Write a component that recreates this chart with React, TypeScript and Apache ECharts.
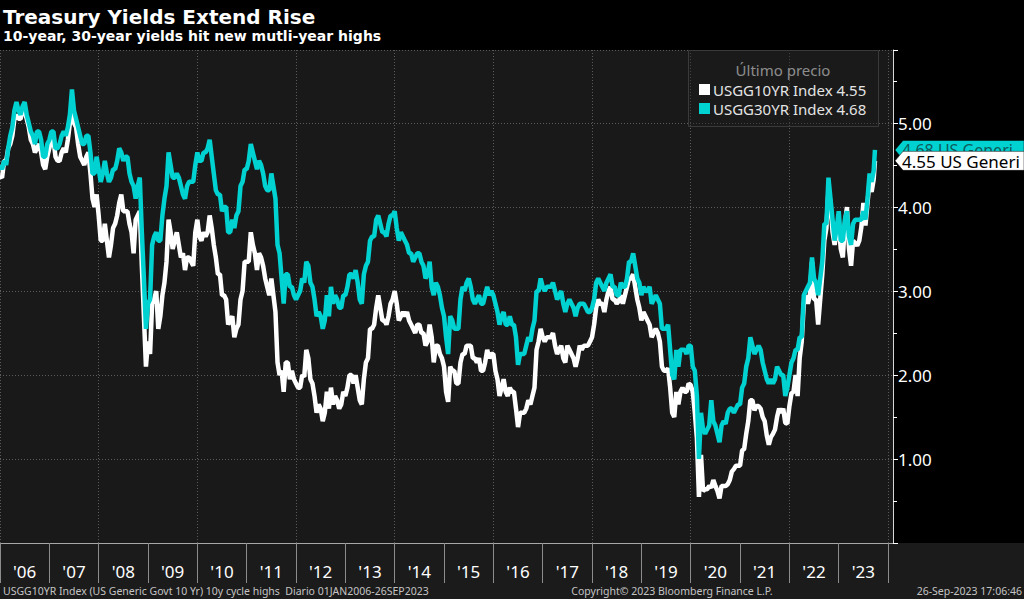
import React, { useEffect, useRef } from "react";
import * as echarts from "echarts";

const TITLE = "Treasury Yields Extend Rise";
const SUBTITLE = "10-year, 30-year yields hit new mutli-year highs";
const LEGEND_HEADER = "Último precio";
const NAME_10Y = "USGG10YR Index 4.55";
const NAME_30Y = "USGG30YR Index 4.68";
const TAG_10Y = "4.55 US Generi";
const TAG_30Y = "4.68 US Generi";
const FOOTER_LEFT = "USGG10YR Index (US Generic Govt 10 Yr) 10y cycle highs  Diario 01JAN2006-26SEP2023";
const FOOTER_MID = "Copyright\u00a9 2023 Bloomberg Finance L.P.";
const FOOTER_RIGHT = "26-Sep-2023 17:06:46";

const YEAR_LABELS = ["'06", "'07", "'08", "'09", "'10", "'11", "'12", "'13", "'14", "'15", "'16", "'17", "'18", "'19", "'20", "'21", "'22", "'23"];
const START_YEAR = 2006;
const SAMPLES_PER_YEAR = 24; // readings on the 1st and 16th of each month
const LAST_DATE_DECIMAL = 2023.734; // 26-Sep-2023
const LAST_10Y = 4.55;
const LAST_30Y = 4.68;

// US Generic Govt 10 Yr, semi-monthly readings Jan-2006 .. Sep-2023
const y10: number[] = [
  // 2006
  4.37, 4.35, 4.55, 4.55, 4.70, 4.75, 4.85, 5.05, 5.10, 5.05, 5.05, 5.15, 5.15, 5.05, 4.95, 4.80, 4.75, 4.65, 4.70, 4.75, 4.65, 4.50, 4.45, 4.60,
  // 2007
  4.70, 4.80, 4.80, 4.60, 4.55, 4.55, 4.65, 4.70, 4.65, 4.80, 5.00, 5.15, 5.00, 4.95, 4.75, 4.60, 4.55, 4.50, 4.60, 4.65, 4.40, 4.10, 4.00, 4.15,
  // 2008
  3.90, 3.60, 3.60, 3.80, 3.60, 3.40, 3.55, 3.75, 3.80, 3.90, 4.05, 4.15, 3.95, 3.95, 3.95, 3.80, 3.70, 3.45, 3.85, 3.90, 3.95, 3.30, 2.70, 2.10,
  // 2009
  2.40, 2.25, 2.85, 2.90, 3.00, 2.55, 2.70, 2.95, 3.10, 3.35, 3.85, 3.70, 3.50, 3.60, 3.70, 3.55, 3.40, 3.45, 3.25, 3.40, 3.40, 3.35, 3.30, 3.70,
  // 2010
  3.85, 3.65, 3.60, 3.70, 3.65, 3.70, 3.90, 3.75, 3.55, 3.40, 3.20, 3.20, 2.95, 2.95, 2.90, 2.60, 2.65, 2.70, 2.45, 2.55, 2.60, 2.90, 3.00, 3.35,
  // 2011
  3.35, 3.35, 3.70, 3.55, 3.45, 3.25, 3.45, 3.40, 3.30, 3.15, 3.05, 2.95, 3.15, 2.95, 2.75, 2.15, 2.00, 2.05, 1.80, 2.15, 2.15, 1.95, 2.05, 1.95,
  // 2012
  1.90, 1.85, 1.85, 2.00, 1.98, 2.30, 2.20, 1.95, 1.90, 1.75, 1.55, 1.65, 1.60, 1.45, 1.55, 1.80, 1.60, 1.85, 1.65, 1.75, 1.70, 1.60, 1.65, 1.80,
  // 2013
  1.75, 1.85, 2.00, 2.00, 1.90, 2.00, 1.85, 1.70, 1.65, 1.95, 2.15, 2.20, 2.55, 2.55, 2.60, 2.80, 2.95, 2.80, 2.65, 2.65, 2.60, 2.70, 2.85, 2.90,
  // 2014
  3.00, 2.85, 2.65, 2.70, 2.75, 2.70, 2.75, 2.65, 2.60, 2.55, 2.50, 2.60, 2.60, 2.50, 2.50, 2.35, 2.40, 2.60, 2.45, 2.15, 2.35, 2.35, 2.25, 2.20,
  // 2015
  2.10, 1.80, 1.68, 2.10, 2.05, 2.05, 1.90, 1.90, 2.15, 2.25, 2.25, 2.35, 2.35, 2.35, 2.20, 2.20, 2.15, 2.20, 2.05, 2.05, 2.15, 2.30, 2.20, 2.25,
  // 2016
  2.25, 2.05, 1.95, 1.75, 1.85, 1.95, 1.80, 1.75, 1.85, 1.80, 1.80, 1.60, 1.38, 1.55, 1.55, 1.55, 1.60, 1.70, 1.65, 1.75, 1.85, 2.30, 2.40, 2.55,
  // 2017
  2.45, 2.40, 2.45, 2.45, 2.45, 2.50, 2.35, 2.25, 2.30, 2.35, 2.20, 2.15, 2.35, 2.30, 2.25, 2.20, 2.10, 2.20, 2.35, 2.30, 2.35, 2.35, 2.35, 2.40,
  // 2018
  2.45, 2.60, 2.80, 2.90, 2.85, 2.85, 2.75, 2.90, 3.00, 3.05, 2.90, 2.90, 2.85, 2.88, 2.95, 2.85, 2.95, 3.05, 3.15, 3.15, 3.20, 3.05, 2.90, 2.80,
  // 2019
  2.65, 2.75, 2.70, 2.65, 2.60, 2.45, 2.50, 2.55, 2.50, 2.40, 2.10, 2.05, 2.05, 2.08, 1.85, 1.55, 1.50, 1.80, 1.65, 1.80, 1.85, 1.80, 1.80, 1.90,
  // 2020
  1.88, 1.80, 1.55, 1.25, 0.55, 1.05, 0.62, 0.64, 0.64, 0.68, 0.66, 0.75, 0.68, 0.62, 0.53, 0.68, 0.68, 0.68, 0.70, 0.75, 0.85, 0.88, 0.92, 0.92,
  // 2021
  0.92, 1.10, 1.12, 1.30, 1.45, 1.70, 1.70, 1.58, 1.63, 1.63, 1.60, 1.50, 1.45, 1.28, 1.17, 1.26, 1.30, 1.35, 1.50, 1.60, 1.55, 1.60, 1.43, 1.42,
  // 2022
  1.63, 1.78, 1.80, 2.00, 1.75, 2.20, 2.40, 2.85, 2.95, 2.85, 2.95, 3.35, 2.90, 2.90, 2.60, 2.90, 3.20, 3.60, 3.75, 4.20, 4.05, 3.70, 3.55, 3.70,
  // 2023 (Jan-Sep)
  3.79, 3.50, 3.40, 3.80, 4.00, 3.50, 3.30, 3.60, 3.57, 3.54, 3.60, 3.76, 4.05, 3.78, 4.05, 4.30, 4.18, 4.33,
];

// US Generic Govt 30 Yr, same dates
const y30: number[] = [
  // 2006
  4.50, 4.45, 4.55, 4.50, 4.70, 4.85, 4.95, 5.15, 5.25, 5.15, 5.10, 5.20, 5.25, 5.10, 5.00, 4.90, 4.85, 4.75, 4.90, 4.90, 4.80, 4.60, 4.60, 4.75,
  // 2007
  4.80, 4.90, 4.90, 4.70, 4.70, 4.75, 4.85, 4.90, 4.85, 4.95, 5.10, 5.40, 5.15, 5.05, 4.95, 4.85, 4.75, 4.75, 4.85, 4.85, 4.65, 4.40, 4.40, 4.60,
  // 2008
  4.45, 4.30, 4.40, 4.55, 4.40, 4.30, 4.35, 4.45, 4.45, 4.55, 4.70, 4.65, 4.55, 4.60, 4.60, 4.40, 4.30, 4.25, 4.10, 4.25, 4.35, 3.70, 3.15, 2.55,
  // 2009
  2.85, 2.90, 3.55, 3.65, 3.70, 3.60, 3.60, 3.90, 4.10, 4.25, 4.65, 4.50, 4.35, 4.35, 4.40, 4.35, 4.25, 4.15, 4.10, 4.25, 4.30, 4.30, 4.30, 4.50,
  // 2010
  4.65, 4.55, 4.55, 4.65, 4.65, 4.70, 4.80, 4.60, 4.40, 4.20, 4.15, 4.15, 3.95, 4.00, 4.00, 3.70, 3.70, 3.85, 3.75, 3.90, 3.95, 4.25, 4.30, 4.45,
  // 2011
  4.45, 4.55, 4.75, 4.65, 4.55, 4.45, 4.55, 4.50, 4.40, 4.25, 4.20, 4.20, 4.40, 4.25, 4.10, 3.55, 3.45, 3.15, 2.85, 3.20, 3.20, 3.05, 3.05, 2.95,
  // 2012
  2.90, 2.95, 3.00, 3.15, 3.10, 3.35, 3.30, 3.10, 3.05, 2.90, 2.70, 2.75, 2.70, 2.55, 2.65, 2.95, 2.70, 3.05, 2.85, 2.95, 2.90, 2.80, 2.80, 2.95,
  // 2013
  2.95, 3.05, 3.20, 3.20, 3.15, 3.25, 3.10, 2.90, 2.85, 3.20, 3.30, 3.35, 3.60, 3.65, 3.65, 3.85, 3.90, 3.80, 3.70, 3.70, 3.65, 3.80, 3.90, 3.90,
  // 2014
  3.95, 3.75, 3.60, 3.70, 3.65, 3.60, 3.55, 3.45, 3.45, 3.35, 3.40, 3.45, 3.45, 3.35, 3.30, 3.15, 3.20, 3.35, 3.05, 2.95, 3.10, 3.05, 2.95, 2.80,
  // 2015
  2.70, 2.45, 2.25, 2.70, 2.65, 2.55, 2.55, 2.55, 2.90, 3.05, 3.00, 3.10, 3.15, 3.05, 2.90, 2.85, 2.90, 2.95, 2.85, 2.85, 2.95, 3.05, 2.95, 3.00,
  // 2016
  2.95, 2.85, 2.75, 2.60, 2.70, 2.75, 2.60, 2.60, 2.70, 2.60, 2.60, 2.45, 2.12, 2.25, 2.25, 2.25, 2.35, 2.45, 2.40, 2.55, 2.65, 3.00, 3.00, 3.15,
  // 2017
  3.05, 3.00, 3.05, 3.05, 3.05, 3.10, 3.00, 2.90, 2.95, 3.00, 2.85, 2.75, 2.85, 2.90, 2.85, 2.80, 2.70, 2.80, 2.85, 2.85, 2.85, 2.80, 2.75, 2.75,
  // 2018
  2.80, 2.90, 3.10, 3.15, 3.10, 3.05, 3.00, 3.10, 3.15, 3.20, 3.05, 3.05, 2.95, 2.95, 3.10, 3.05, 3.05, 3.15, 3.35, 3.35, 3.45, 3.30, 3.15, 3.10,
  // 2019
  2.95, 3.05, 3.00, 3.00, 3.05, 2.85, 2.90, 2.95, 2.90, 2.85, 2.55, 2.55, 2.55, 2.60, 2.30, 2.00, 1.95, 2.30, 2.10, 2.30, 2.30, 2.30, 2.25, 2.35,
  // 2020
  2.35, 2.10, 2.05, 1.75, 1.00, 1.55, 1.35, 1.30, 1.35, 1.40, 1.70, 1.45, 1.40, 1.30, 1.20, 1.40, 1.45, 1.42, 1.55, 1.60, 1.60, 1.55, 1.60, 1.65,
  // 2021
  1.65, 1.85, 1.90, 2.10, 2.20, 2.45, 2.35, 2.25, 2.30, 2.35, 2.30, 2.15, 2.05, 1.95, 1.90, 1.95, 1.90, 1.95, 2.10, 2.05, 2.00, 2.00, 1.75, 1.85,
  // 2022
  2.00, 2.15, 2.20, 2.30, 2.30, 2.45, 2.45, 2.95, 3.00, 3.05, 3.10, 3.40, 3.15, 3.10, 2.95, 3.15, 3.35, 3.80, 3.80, 4.35, 4.10, 3.85, 3.60, 3.75,
  // 2023 (Jan-Sep)
  3.95, 3.60, 3.60, 3.85, 3.95, 3.65, 3.55, 3.80, 3.85, 3.85, 3.85, 3.85, 3.95, 3.85, 4.10, 4.40, 4.30, 4.43,
];

const Y_MIN = 0;
const Y_MAX = 5.87;
const X_MAX = 2024.1;

const COLOR_10Y = "#ffffff";
const COLOR_30Y = "#00d2d2";

function toPoints(values: number[], last: number): [number, number][] {
  const pts: [number, number][] = values.map((v, k) => [START_YEAR + k / SAMPLES_PER_YEAR, v]);
  pts.push([LAST_DATE_DECIMAL, last]);
  return pts;
}

const FONT = "'Noto Sans', 'Open Sans', sans-serif";

export default function App() {
  const ref = useRef<HTMLDivElement>(null);

  useEffect(() => {
    if (!ref.current) return;
    const chart = echarts.init(ref.current, undefined, { renderer: "svg", width: 1024, height: 599 });

    const gridLine = { show: true, lineStyle: { color: "#5a5a5a", type: [1, 2] as any, width: 1 } };

    chart.setOption({
      animation: false,
      backgroundColor: "transparent",
      textStyle: { fontFamily: FONT },
      grid: [
        { left: 0, top: 50, width: 893, height: 493, show: true, backgroundColor: "#191919", borderWidth: 0 },
        { left: 0, top: 542, width: 888, height: 1, show: false },
      ],
      legend: {
        data: [NAME_10Y, NAME_30Y],
        orient: "vertical",
        left: 699,
        top: 82,
        padding: 0,
        itemGap: 4,
        itemWidth: 11,
        itemHeight: 11,
        icon: "rect",
        selectedMode: false,
        textStyle: { color: "#e4e4e4", fontSize: 15, lineHeight: 15, fontFamily: FONT, padding: [0, 0, 0, -2] },
      },
      xAxis: [
        {
          type: "value",
          gridIndex: 0,
          min: START_YEAR,
          max: X_MAX,
          interval: 2,
          axisLabel: { show: false },
          axisTick: { show: false },
          axisLine: { show: true, onZero: false, lineStyle: { color: "#a8a8a8", width: 1 } },
          splitLine: gridLine,
        },
        {
          type: "category",
          gridIndex: 1,
          data: YEAR_LABELS,
          boundaryGap: true,
          axisLine: { show: false },
          axisTick: { show: true, length: 40, interval: 0, lineStyle: { color: "#8c8c8c", width: 1 } },
          axisLabel: { show: true, interval: 0, color: "#ffffff", fontSize: 17, fontFamily: FONT, margin: 20 },
          splitLine: { show: false },
        },
      ],
      yAxis: [
        {
          type: "value",
          gridIndex: 0,
          position: "right",
          min: Y_MIN,
          max: Y_MAX,
          interval: 1,
          axisLine: { show: true, lineStyle: { color: "#d8d8d8", width: 1 } },
          axisTick: { show: true, length: 5, lineStyle: { color: "#ffffff" } },
          minorTick: { show: true, splitNumber: 2, length: 4, lineStyle: { color: "#ffffff" } },
          axisLabel: {
            color: "#ffffff",
            fontSize: 17,
            fontFamily: FONT,
            margin: 5,
            formatter: (v: number) => (v >= 1 && v <= 5 && Math.abs(v - Math.round(v)) < 1e-6 ? v.toFixed(2) : ""),
          },
          splitLine: gridLine,
        },
        { type: "value", gridIndex: 1, show: false },
      ],
      series: [
        {
          name: NAME_10Y,
          type: "line",
          xAxisIndex: 0,
          yAxisIndex: 0,
          data: toPoints(y10, LAST_10Y),
          showSymbol: false,
          symbol: "none",
          lineStyle: { color: COLOR_10Y, width: 4.5 },
          itemStyle: { color: COLOR_10Y },
          z: 3,
        },
        {
          name: NAME_30Y,
          type: "line",
          xAxisIndex: 0,
          yAxisIndex: 0,
          data: toPoints(y30, LAST_30Y),
          showSymbol: false,
          symbol: "none",
          lineStyle: { color: COLOR_30Y, width: 4.5 },
          itemStyle: { color: COLOR_30Y },
          z: 4,
        },
      ],
    });

    const py10 = chart.convertToPixel({ yAxisIndex: 0 }, LAST_10Y) as number;
    const py30 = chart.convertToPixel({ yAxisIndex: 0 }, LAST_30Y) as number;
    const axisX = chart.convertToPixel({ xAxisIndex: 0 }, X_MAX) as number;

    const tag = (y: number, fill: string, text: string, textFill: string, fontSize: number) => ({
      type: "group",
      children: [
        {
          type: "polygon",
          shape: { points: [[axisX + 2, y], [axisX + 10, y - 9.5], [1024, y - 9.5], [1024, y + 9.5], [axisX + 10, y + 9.5]] },
          style: { fill, stroke: "#000", lineWidth: 0.5 },
        },
        {
          type: "text",
          x: axisX + 9,
          y: y + 0.5,
          style: {
            text, fill: textFill, font: `${fontSize}px ${FONT}`, lineHeight: fontSize,
            textAlign: "left", align: "left", textVerticalAlign: "middle", verticalAlign: "middle",
          },
        },
      ],
    });

    const txt = (x: number, y: number, text: string, font: string, fill: string, align = "left") => ({
      type: "text",
      x,
      y,
      style: { text, font, fill, textAlign: align, align, textVerticalAlign: "middle", verticalAlign: "middle" },
    });

    chart.setOption({
      graphic: [
        txt(3, 16.5, TITLE, "bold 20px 'DejaVu Sans'", "#ffffff"),
        txt(3, 35.5, SUBTITLE, "bold 14px 'DejaVu Sans'", "#ffffff"),
        {
          type: "rect",
          shape: { x: 688.5, y: 50.5, width: 190, height: 76 },
          style: { fill: "rgba(30,30,30,0.35)", stroke: "#3a3a3a", lineWidth: 1 },
          z: 1,
        },
        txt(783, 69.5, LEGEND_HEADER, `15px ${FONT}`, "#c8c8c8", "center"),
        tag(py30, COLOR_30Y, TAG_30Y, "#0d5c5c", 16),
        tag(py10, "#ffffff", TAG_10Y, "#000000", 17),
        txt(3, 591, FOOTER_LEFT, `10.5px ${FONT}`, "#c4c4c4"),
        txt(672, 591, FOOTER_MID, `10.5px ${FONT}`, "#c4c4c4", "center"),
        txt(1022, 591, FOOTER_RIGHT, `10.5px ${FONT}`, "#c4c4c4", "right"),
      ],
    });

    return () => chart.dispose();
  }, []);

  return (
    <div
      style={{
        position: "fixed",
        left: 0,
        top: 0,
        width: 1024,
        height: 599,
        background: "linear-gradient(to bottom, #000 0px, #000 543px, #1b1b1b 543px, #1b1b1b 599px)",
      }}
    >
      <div ref={ref} style={{ width: 1024, height: 599 }} />
    </div>
  );
}
